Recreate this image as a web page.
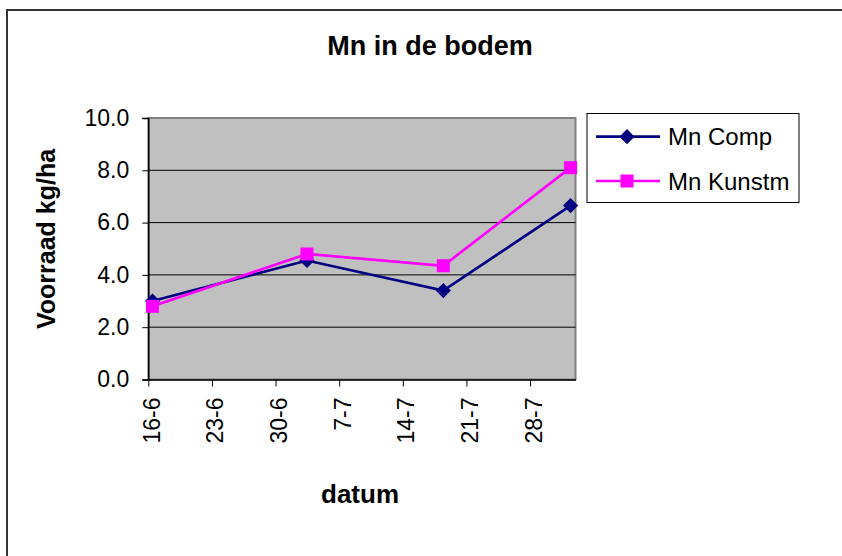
<!DOCTYPE html>
<html>
<head>
<meta charset="utf-8">
<script src="https://cdn.jsdelivr.net/npm/d3@7"></script>
<style>
  body { margin: 0; background: #fff; }
  text { font-family: 'Liberation Sans', Arial, sans-serif; }
</style>
</head>
<body>
<div id="chart"></div>
<script>
const parseDay = d3.timeParse('%d-%m')

// data
const sampleDates = ['16-6', '3-7', '18-7', '1-8']
const mnComp = [3.0, 4.55, 3.4, 6.65]
const mnKunstm = [2.8, 4.8, 4.35, 8.1]
const seriesNames = ['Mn Comp', 'Mn Kunstm']
const xTickLabels = ['16-6', '23-6', '30-6', '7-7', '14-7', '21-7', '28-7']
const yTicks = [0, 2, 4, 6, 8, 10]
const xDomain = ['16-6', '2-8']

const width = 842
const height = 556
const plot = { left: 148.3, right: 575.5, top: 118, bottom: 379.5 }

const svg = d3
  .select('#chart')
  .append('svg')
  .attr('width', width)
  .attr('height', height)

svg.append('rect').attr('width', width).attr('height', height).attr('fill', '#fff')

// outer chart frame (runs off the right and bottom edge)
svg
  .append('rect')
  .attr('x', 7)
  .attr('y', 10)
  .attr('width', width + 20)
  .attr('height', height + 20)
  .attr('fill', 'none')
  .attr('stroke', '#333')
  .attr('stroke-width', 2)

const xScale = d3
  .scaleTime()
  .domain(xDomain.map(parseDay))
  .range([plot.left, plot.right])

const yScale = d3
  .scaleLinear()
  .domain([0, 10])
  .range([plot.bottom, plot.top])

// points sit mid-day on a date axis
const pointDates = sampleDates.map((d) => d3.timeHour.offset(parseDay(d), 11))

// plot area
svg
  .append('rect')
  .attr('x', plot.left)
  .attr('y', plot.top)
  .attr('width', plot.right - plot.left)
  .attr('height', plot.bottom - plot.top)
  .attr('fill', '#c0c0c0')
  .attr('stroke', '#808080')
  .attr('stroke-width', 2)

// gridlines
svg
  .append('g')
  .selectAll('line')
  .data(yTicks.filter((t) => t > 0 && t < 10))
  .join('line')
  .attr('x1', plot.left)
  .attr('x2', plot.right)
  .attr('y1', (d) => yScale(d))
  .attr('y2', (d) => yScale(d))
  .attr('stroke', '#000')
  .attr('stroke-width', 1)

// y axis
const yAxis = svg
  .append('g')
  .attr('transform', `translate(${plot.left},0)`)
  .call(
    d3
      .axisLeft(yScale)
      .tickValues(yTicks)
      .tickFormat(d3.format('.1f'))
      .tickSize(6)
      .tickPadding(13)
  )
yAxis.select('.domain').attr('stroke', '#000').attr('stroke-width', 1.5)
yAxis.selectAll('.tick line').attr('stroke', '#000')
yAxis
  .selectAll('.tick text')
  .attr('font-family', "'Liberation Sans', Arial, sans-serif")
  .attr('font-size', 23)
  .attr('fill', '#000')

// x axis
const xAxis = svg
  .append('g')
  .attr('transform', `translate(0,${plot.bottom})`)
  .call(
    d3
      .axisBottom(xScale)
      .tickValues(xTickLabels.map(parseDay))
      .tickFormat((d, i) => xTickLabels[i])
      .tickSize(7)
      .tickSizeOuter(0)
  )
xAxis.select('.domain').attr('stroke', '#000').attr('stroke-width', 1.5)
xAxis.selectAll('.tick line').attr('stroke', '#000')
xAxis
  .selectAll('.tick text')
  .attr('font-family', "'Liberation Sans', Arial, sans-serif")
  .attr('font-size', 23)
  .attr('fill', '#000')
  .attr('text-anchor', 'end')
  .attr('transform', 'translate(3,18) rotate(-90)')
  .attr('x', 0)
  .attr('y', 0)
  .attr('dy', '0.35em')

// series
const square = d3.symbol(d3.symbolSquare, 169)
const diamond = d3.symbol(d3.symbolSquare, 115)
const seriesData = [
  { name: seriesNames[0], values: mnComp, color: '#000080', marker: diamond, rot: 45 },
  { name: seriesNames[1], values: mnKunstm, color: '#ff00ff', marker: square, rot: 0 },
]

const line = d3
  .line()
  .x((d) => xScale(d.date))
  .y((d) => yScale(d.value))

seriesData.forEach((s) => {
  const pts = s.values.map((v, i) => ({ date: pointDates[i], value: v }))
  const g = svg.append('g')
  g.append('path')
    .datum(pts)
    .attr('d', line)
    .attr('fill', 'none')
    .attr('stroke', s.color)
    .attr('stroke-width', 2.7)
  g.selectAll('path.marker')
    .data(pts)
    .join('path')
    .attr('class', 'marker')
    .attr(
      'transform',
      (d) => `translate(${xScale(d.date)},${yScale(d.value)}) rotate(${s.rot})`
    )
    .attr('d', s.marker)
    .attr('fill', s.color)
})

// legend
const legend = svg.append('g')
legend
  .append('rect')
  .attr('x', 587)
  .attr('y', 113.5)
  .attr('width', 212)
  .attr('height', 89)
  .attr('fill', '#fff')
  .attr('stroke', '#000')
  .attr('stroke-width', 1)

seriesData.forEach((s, i) => {
  const cy = 136.7 + i * 44.3
  legend
    .append('line')
    .attr('x1', 596)
    .attr('x2', 660)
    .attr('y1', cy)
    .attr('y2', cy)
    .attr('stroke', s.color)
    .attr('stroke-width', 2.7)
  legend
    .append('path')
    .attr('transform', `translate(627,${cy}) rotate(${s.rot})`)
    .attr('d', s.marker)
    .attr('fill', s.color)
  legend
    .append('text')
    .attr('x', 668)
    .attr('y', cy)
    .attr('dy', '0.36em')
    .attr('font-size', 24)
    .text(s.name)
})

// titles
svg
  .append('text')
  .attr('x', 430)
  .attr('y', 55)
  .attr('text-anchor', 'middle')
  .attr('font-size', 27)
  .attr('font-weight', 'bold')
  .text('Mn in de bodem')

svg
  .append('text')
  .attr('transform', 'translate(55,239) rotate(-90)')
  .attr('text-anchor', 'middle')
  .attr('font-size', 25)
  .attr('font-weight', 'bold')
  .text('Voorraad kg/ha')

svg
  .append('text')
  .attr('x', 360)
  .attr('y', 503)
  .attr('text-anchor', 'middle')
  .attr('font-size', 26)
  .attr('font-weight', 'bold')
  .text('datum')
</script>
</body>
</html>
